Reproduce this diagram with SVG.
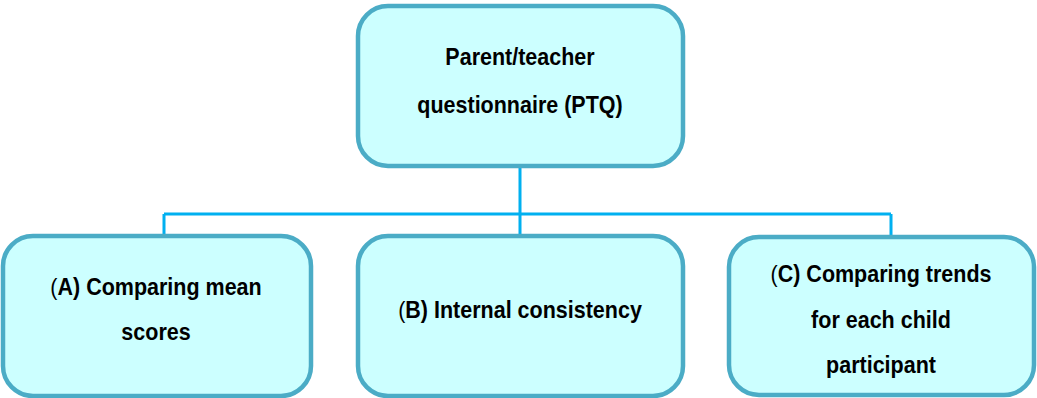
<svg xmlns="http://www.w3.org/2000/svg" width="1037" height="398" viewBox="0 0 1037 398">
<style>
.box{fill:#CCFFFF;stroke:#4BACC6;stroke-width:4.5}
.t{font-family:"Liberation Sans",Arial,sans-serif;font-weight:bold;font-size:21.5px;fill:#000;text-anchor:middle}
.n{font-weight:normal}
.c{fill:none;stroke:#00B0F0;stroke-width:3}
</style>
<rect width="1037" height="398" fill="#fff"/>
<g id="connectors">
<path class="c" d="M520 166V214M164 214H891M164 214V236M520 214V236M891 214V236"/>
</g>
<g id="ptq">
<rect class="box" x="358" y="6" width="325" height="160" rx="30"/>
<text class="t" transform="translate(520 65) scale(1 1.1)">Parent/teacher</text>
<text class="t" transform="translate(520 113) scale(1 1.1)">questionnaire (PTQ)</text>
</g>
<g id="a">
<rect class="box" x="3" y="236" width="308" height="160" rx="30"/>
<text class="t" transform="translate(156 295) scale(1 1.1)"><tspan class="n">(</tspan>A) Comparing mean</text>
<text class="t" transform="translate(156 340) scale(1 1.1)">scores</text>
</g>
<g id="b">
<rect class="box" x="358" y="236" width="325" height="160" rx="30"/>
<text class="t" transform="translate(520 318) scale(1 1.1)"><tspan class="n">(</tspan>B) Internal consistency</text>
</g>
<g id="c">
<rect class="box" x="729" y="237" width="305" height="158" rx="30"/>
<text class="t" transform="translate(881 282) scale(1 1.1)"><tspan class="n">(</tspan>C) Comparing trends</text>
<text class="t" transform="translate(881 328) scale(1 1.1)">for each child</text>
<text class="t" transform="translate(881 373) scale(1 1.1)">participant</text>
</g>
</svg>
